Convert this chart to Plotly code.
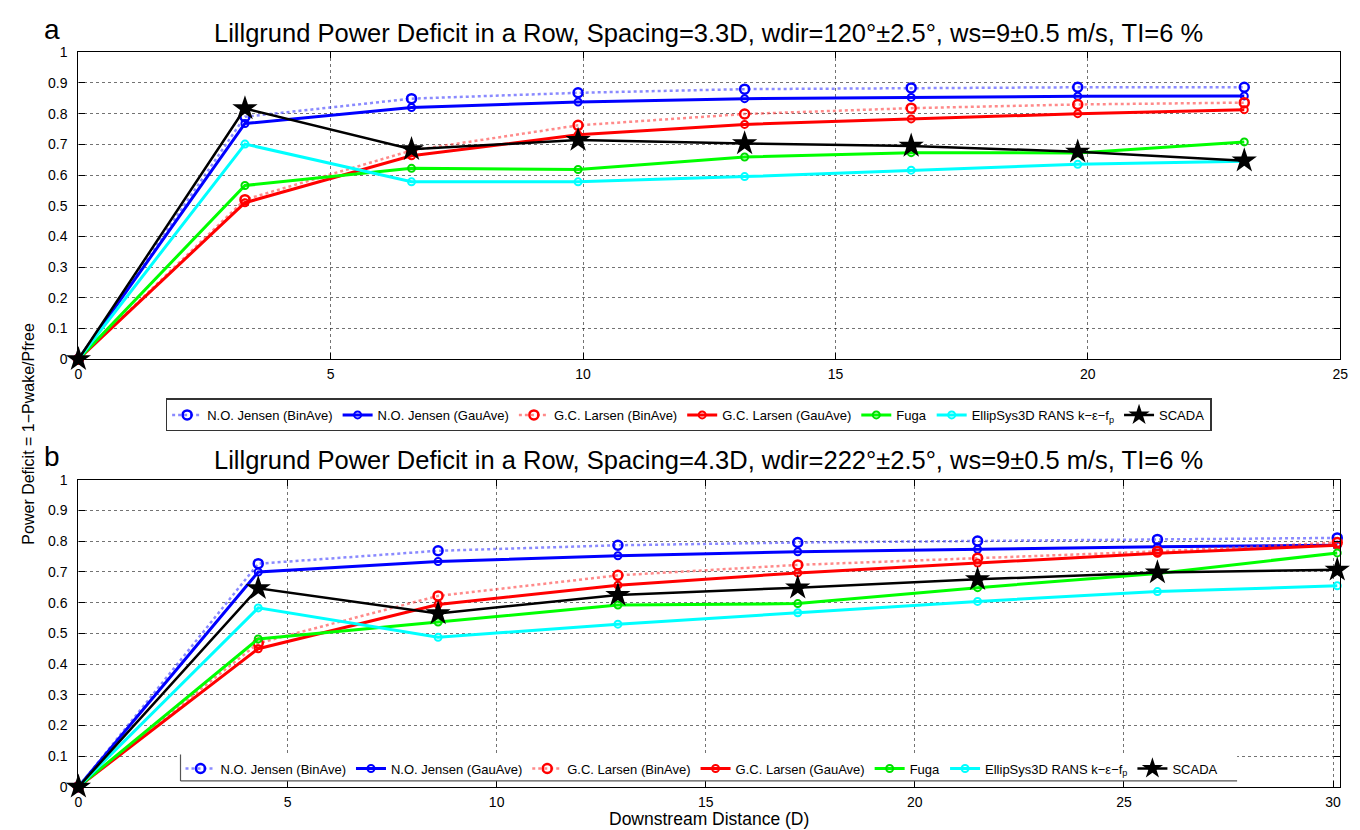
import plotly.graph_objects as go

# ---------------- data ----------------
series_names = ["N.O. Jensen (BinAve)", "N.O. Jensen (GauAve)", "G.C. Larsen (BinAve)",
                "G.C. Larsen (GauAve)", "Fuga", "EllipSys3D RANS k\u2212\u03b5\u2212f<sub>p</sub>", "SCADA"]

# Panel a : spacing 3.3D
dist_a = [0, 3.3, 6.6, 9.9, 13.2, 16.5, 19.8, 23.1]
noj_bin_a = [0, 0.79, 0.849, 0.868, 0.880, 0.884, 0.886, 0.886]
noj_gau_a = [0, 0.768, 0.820, 0.838, 0.849, 0.853, 0.857, 0.858]
gcl_bin_a = [0, 0.52, 0.680, 0.762, 0.799, 0.818, 0.830, 0.836]
gcl_gau_a = [0, 0.510, 0.663, 0.731, 0.765, 0.783, 0.800, 0.813]
fuga_a = [0, 0.566, 0.622, 0.618, 0.659, 0.673, 0.672, 0.708]
ellip_a = [0, 0.701, 0.578, 0.578, 0.595, 0.616, 0.635, 0.645]
scada_a = [0, 0.817, 0.684, 0.714, 0.703, 0.695, 0.676, 0.647]

# Panel b : spacing 4.3D
dist_b = [0, 4.3, 8.6, 12.9, 17.2, 21.5, 25.8, 30.1]
noj_bin_b = [0, 0.727, 0.769, 0.787, 0.796, 0.801, 0.806, 0.811]
noj_gau_b = [0, 0.700, 0.734, 0.753, 0.766, 0.774, 0.782, 0.787]
gcl_bin_b = [0, 0.468, 0.622, 0.689, 0.723, 0.745, 0.767, 0.796]
gcl_gau_b = [0, 0.450, 0.594, 0.657, 0.697, 0.729, 0.761, 0.787]
fuga_b = [0, 0.482, 0.537, 0.592, 0.597, 0.649, 0.695, 0.762]
ellip_b = [0, 0.583, 0.487, 0.530, 0.567, 0.604, 0.636, 0.655]
scada_b = [0, 0.647, 0.565, 0.625, 0.649, 0.676, 0.698, 0.707]

title_a = "Lillgrund Power Deficit in a Row, Spacing=3.3D, wdir=120\u00b0\u00b12.5\u00b0, ws=9\u00b10.5 m/s, TI=6 %"
title_b = "Lillgrund Power Deficit in a Row, Spacing=4.3D, wdir=222\u00b0\u00b12.5\u00b0, ws=9\u00b10.5 m/s, TI=6 %"
xticks_a = [0, 5, 10, 15, 20, 25]
xticks_b = [0, 5, 10, 15, 20, 25, 30]
yticks = [0, 0.1, 0.2, 0.3, 0.4, 0.5, 0.6, 0.7, 0.8, 0.9, 1]

# ---------------- styles ----------------
styles = [
    dict(line=dict(color="rgba(60,60,255,0.6)", width=2.5, dash="dot"),
         marker=dict(symbol="circle-open", size=9, color="#0000ff", line=dict(width=2.5, color="#0000ff"))),
    dict(line=dict(color="#0000ff", width=3),
         marker=dict(symbol="circle-open", size=7, color="#0000ff", line=dict(width=2, color="#0000ff"))),
    dict(line=dict(color="rgba(255,60,60,0.6)", width=2.5, dash="dot"),
         marker=dict(symbol="circle-open", size=9, color="#ff0000", line=dict(width=2.5, color="#ff0000"))),
    dict(line=dict(color="#ff0000", width=3),
         marker=dict(symbol="circle-open", size=7, color="#ff0000", line=dict(width=2, color="#ff0000"))),
    dict(line=dict(color="#00ff00", width=3),
         marker=dict(symbol="circle-open", size=7, color="#00dd00", line=dict(width=2, color="#00dd00"))),
    dict(line=dict(color="#00ffff", width=3),
         marker=dict(symbol="circle-open", size=7, color="#00ffff", line=dict(width=2, color="#00ffff"))),
    dict(line=dict(color="#000000", width=2.5),
         marker=dict(symbol="star", size=19, color="#000000", line=dict(width=0))),
]

fig = go.Figure()

panel_a = [noj_bin_a, noj_gau_a, gcl_bin_a, gcl_gau_a, fuga_a, ellip_a, scada_a]
panel_b = [noj_bin_b, noj_gau_b, gcl_bin_b, gcl_gau_b, fuga_b, ellip_b, scada_b]

for i, (name, ys) in enumerate(zip(series_names, panel_a)):
    fig.add_trace(go.Scatter(x=dist_a, y=ys, name=name, mode="lines+markers",
                             xaxis="x", yaxis="y", legend="legend", cliponaxis=False,
                             **styles[i]))
for i, (name, ys) in enumerate(zip(series_names, panel_b)):
    fig.add_trace(go.Scatter(x=dist_b, y=ys, name=name, mode="lines+markers",
                             xaxis="x2", yaxis="y2", legend="legend2", cliponaxis=False,
                             **styles[i]))

W, H = 1360, 830
L, R = 67, 1340
def px(x):
    return x / W
def py(y):
    return 1 - y / H

FONT = "Liberation Sans, Arial, sans-serif"
axis_common = dict(
    showline=True, linecolor="black", linewidth=1.2, mirror="ticks",
    ticks="inside", ticklen=6, tickcolor="black",
    showgrid=True, gridcolor="rgba(0,0,0,0.55)", griddash="dot", gridwidth=1,
    zeroline=False, tickfont=dict(family=FONT, size=14, color="black"),
)

fig.update_layout(
    width=W, height=H,
    margin=dict(l=0, r=0, t=0, b=0),
    paper_bgcolor="white", plot_bgcolor="white",
    font=dict(family=FONT, color="black"),
    xaxis=dict(domain=[px(L), px(R)], anchor="y", range=[0, 25], tickvals=xticks_a,
               ticklabelstandoff=2, **axis_common),
    yaxis=dict(domain=[py(350), py(37)], anchor="x", range=[0, 1], tickvals=yticks,
               ticklabelstandoff=7, **axis_common),
    xaxis2=dict(domain=[px(L), px(R)], anchor="y2", range=[0, 30.17], tickvals=xticks_b,
                ticklabelstandoff=2, **axis_common),
    yaxis2=dict(domain=[py(786), py(473)], anchor="x2", range=[0, 1], tickvals=yticks,
                ticklabelstandoff=7, **axis_common),
    legend=dict(orientation="h", x=px(155), y=py(390), xanchor="left", yanchor="top",
                bgcolor="white", bordercolor="#333333", borderwidth=1.5,
                font=dict(family=FONT, size=13, color="black"),
                itemwidth=30, tracegroupgap=0),
    legend2=dict(orientation="h", x=px(170), y=py(752), xanchor="left", yanchor="top",
                 bgcolor="rgba(0,0,0,0)", borderwidth=0,
                 font=dict(family=FONT, size=13, color="black"),
                 itemwidth=30, tracegroupgap=0),
    showlegend=True,
)

# white backing + left/bottom edges of the panel-b legend box
shapes = [
    dict(type="rect", xref="paper", yref="paper", x0=px(170), x1=px(1236), y0=py(780), y1=py(753),
         fillcolor="white", line=dict(width=0), layer="above"),
    dict(type="line", xref="paper", yref="paper", x0=px(170), x1=px(170), y0=py(780), y1=py(753),
         line=dict(color="#555555", width=1.2), layer="above"),
    dict(type="line", xref="paper", yref="paper", x0=px(170), x1=px(1236), y0=py(780), y1=py(780),
         line=dict(color="#555555", width=1.2), layer="above"),
]
fig.update_layout(shapes=shapes)

annotations = [
    dict(text=title_a, x=px(703), y=py(17), xref="paper", yref="paper", showarrow=False,
         font=dict(size=25.5), xanchor="center", yanchor="middle"),
    dict(text=title_b, x=px(703), y=py(453), xref="paper", yref="paper", showarrow=False,
         font=dict(size=25.5), xanchor="center", yanchor="middle"),
    dict(text="a", x=px(40), y=py(14), xref="paper", yref="paper", showarrow=False,
         font=dict(size=28), xanchor="center", yanchor="middle"),
    dict(text="b", x=px(40), y=py(449), xref="paper", yref="paper", showarrow=False,
         font=dict(size=28), xanchor="center", yanchor="middle"),
    dict(text="Power Deficit = 1\u2212Pwake/Pfree", x=px(17), y=py(426), xref="paper", yref="paper",
         showarrow=False, textangle=-90, font=dict(size=16), xanchor="center", yanchor="middle"),
    dict(text="Downstream Distance (D)", x=px(703), y=py(819), xref="paper", yref="paper",
         showarrow=False, font=dict(size=17.5), xanchor="center", yanchor="middle"),
]
fig.update_layout(annotations=annotations)

fig.write_html("out.html")
